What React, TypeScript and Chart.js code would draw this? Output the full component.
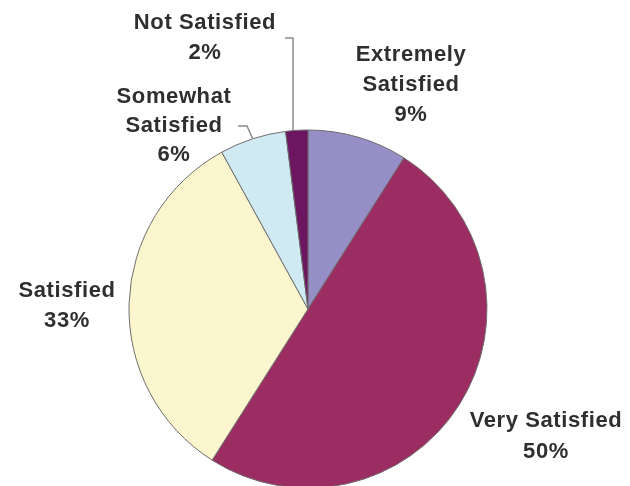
import React, { useEffect, useRef } from "react";
import { Chart, registerables } from "chart.js";

Chart.register(...registerables);

const categories = ["Extremely Satisfied", "Very Satisfied", "Satisfied", "Somewhat Satisfied", "Not Satisfied"];
const values = [9, 50, 33, 6, 2];
const colors = ["#968ec6", "#9b2d63", "#fbf6cd", "#cfeaf2", "#6c1560"];
const labelLines = [
  ["Extremely", "Satisfied", "9%"],
  ["Very Satisfied", "50%"],
  ["Satisfied", "33%"],
  ["Somewhat", "Satisfied", "6%"],
  ["Not Satisfied", "2%"],
];

// label placement: [centerX, firstLineY, lineGap]
const placement: [number, number, number][] = [
  [411, 55, 30],
  [546, 421, 31],
  [67, 291, 30],
  [174, 97, 29],
  [205, 23, 30],
];
// leader lines for small slices: index -> elbow points (start, corner)
const leaders: Record<number, [number, number][]> = {
  3: [[238, 126], [247, 126]],
  4: [[285, 38], [293, 38]],
};

const labelPlugin = {
  id: "pieLabels",
  afterDraw(chart: any) {
    const ctx = chart.ctx;
    const meta = chart.getDatasetMeta(0);
    ctx.save();
    // leader lines
    ctx.strokeStyle = "#8a8a8a";
    ctx.lineWidth = 1.5;
    Object.keys(leaders).forEach((k) => {
      const i = Number(k);
      const arc = meta.data[i];
      const mid = (arc.startAngle + arc.endAngle) / 2;
      const ex = arc.x + Math.cos(mid) * arc.outerRadius;
      const ey = arc.y + Math.sin(mid) * arc.outerRadius;
      const pts = leaders[i];
      ctx.beginPath();
      ctx.moveTo(pts[0][0], pts[0][1]);
      ctx.lineTo(pts[1][0], pts[1][1]);
      if (i === 4) {
        ctx.lineTo(pts[1][0], ey);
      } else {
        ctx.lineTo(ex, ey);
      }
      ctx.stroke();
    });
    // text
    ctx.fillStyle = "#2f2f2f";
    ctx.font = "bold 22px 'Liberation Sans', Arial, sans-serif";
    try { (ctx as any).letterSpacing = "0.6px"; } catch (e) {}
    ctx.textAlign = "center";
    ctx.textBaseline = "middle";
    labelLines.forEach((lines, i) => {
      const [cx, y0, gap] = placement[i];
      lines.forEach((t, j) => ctx.fillText(t, cx, y0 + j * gap));
    });
    ctx.restore();
  },
};

export default function App() {
  const ref = useRef<HTMLCanvasElement>(null);
  useEffect(() => {
    if (!ref.current) return;
    const chart = new Chart(ref.current, {
      type: "pie",
      data: {
        labels: categories,
        datasets: [
          {
            data: values,
            backgroundColor: colors,
            borderColor: "#6e6e6e",
            borderWidth: 1,
            hoverOffset: 0,
            radius: 179,
          } as any,
        ],
      },
      options: {
        animation: false,
        responsive: false,
        maintainAspectRatio: false,
        layout: { padding: { left: 0, right: 14, top: 132, bottom: 0 } },
        plugins: { legend: { display: false }, tooltip: { enabled: false } },
      },
      plugins: [labelPlugin],
    });
    return () => chart.destroy();
  }, []);
  return (
    <div style={{ position: "fixed", left: 0, top: 0, width: 630, height: 486, background: "#fff" }}>
      <canvas ref={ref} width={630} height={486} />
    </div>
  );
}
